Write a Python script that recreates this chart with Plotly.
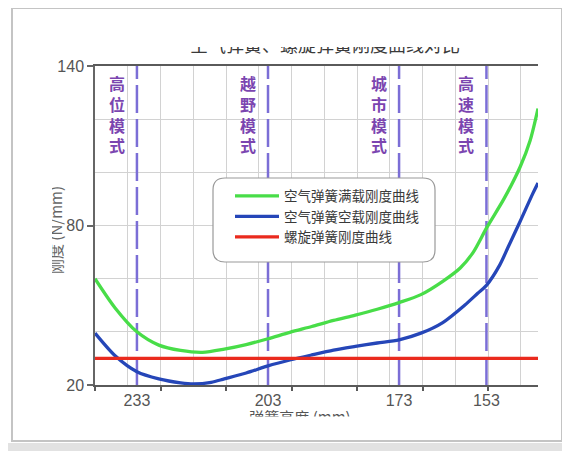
import plotly.graph_objects as go

# ---------------- data ----------------
title_text = "空气弹簧、螺旋弹簧刚度曲线对比"
x_title = "弹簧高度 (mm)"
y_title = "刚度 (N/mm)"

series_names = ["空气弹簧满载刚度曲线", "空气弹簧空载刚度曲线", "螺旋弹簧刚度曲线"]

height_loaded = [242.6, 238, 233, 228, 223, 218, 213, 208, 203, 198, 193, 188, 183, 178,
                 173, 168, 163, 159, 156, 153, 149, 145.3, 143, 141.2]
stiff_loaded = [60, 49, 40, 35, 33, 32.3, 33.5, 35.2, 37.4, 39.8, 42, 44.3, 46.3, 48.5,
                51, 54, 59, 64, 70, 79, 90, 102, 112, 124]

height_empty = [242.6, 238, 233, 228, 223, 220, 216, 213, 208, 203, 198, 193, 188, 183,
                178, 173, 168, 163, 158, 155, 153, 150, 148, 145.3, 142.4, 141.2]
stiff_empty = [39.5, 31, 25, 22.3, 20.8, 20.4, 21, 22.3, 24.5, 27.2, 29.4, 31.3, 33.1, 34.5,
               35.8, 37, 39.5, 43.5, 50, 54.5, 57.5, 65, 72, 81.5, 92, 96]

height_coil = [242.6, 141.2]
stiff_coil = [30, 30]

mode_positions = [233, 203, 173, 153]
mode_tick_labels = ["233", "203", "173", "153"]
mode_names = ["高位模式", "越野模式", "城市模式", "高速模式"]

y_ticks = [20, 80, 140]

# ---------------- layout helpers (target pixel -> paper) ----------------
OFF = 8                    # page body margin
FW, FH = 570 - OFF, 451 - OFF
L, R, T, B = 95, 538, 66, 385


def px(t):
    return (t - OFF) / FW


def py(t):
    return 1 - (t - OFF) / FH


X_RANGE = [242.6, 141.2]

fig = go.Figure()

# mode boundary dashed lines
for xv in mode_positions:
    fig.add_trace(go.Scatter(x=[xv, xv], y=[20, 140], mode="lines",
                             line=dict(color="#7b6ed6", width=2.5, dash="28px,6px"),
                             showlegend=False, hoverinfo="skip"))

colors = ["#48dd48", "#2546b8", "#ea2a1e"]
for name, xs, ys, c in zip(series_names,
                           [height_loaded, height_empty, height_coil],
                           [stiff_loaded, stiff_empty, stiff_coil], colors):
    fig.add_trace(go.Scatter(x=xs, y=ys, mode="lines", name=name,
                             line=dict(color=c, width=3.3, shape="spline", smoothing=0.8),
                             hoverinfo="skip"))

# dummy trace for the tick-mark axis
fig.add_trace(go.Scatter(x=[None], y=[None], xaxis="x2", showlegend=False, hoverinfo="skip"))

# partially hidden titles (clipped by their own small subplots)
fig.add_trace(go.Scatter(x=[px(325)], y=[0.9], mode="text", text=[title_text],
                         textposition="middle center", cliponaxis=True,
                         textfont=dict(size=18, color="#3a3a3a", family="Noto Sans CJK SC"),
                         xaxis="x3", yaxis="y3", showlegend=False, hoverinfo="skip"))
fig.add_trace(go.Scatter(x=[px(300)], y=[-0.2], mode="text", text=[x_title],
                         textposition="middle center", cliponaxis=True,
                         textfont=dict(size=15, color="#555", family="Noto Sans CJK SC"),
                         xaxis="x4", yaxis="y4", showlegend=False, hoverinfo="skip"))

grid_c = "#d2d2d2"
hidden = dict(visible=False, range=[0, 1], fixedrange=True, automargin=False)
fig.update_layout(
    width=FW, height=FH, autosize=False,
    margin=dict(l=0, r=0, t=0, b=0, pad=0, autoexpand=False),
    paper_bgcolor="white", plot_bgcolor="white",
    font=dict(family="Liberation Sans, Noto Sans CJK SC", color="#555"),
    xaxis=dict(domain=[px(L), px(R)], range=X_RANGE, tickmode="array", tickvals=mode_positions,
               ticktext=mode_tick_labels, ticks="", showgrid=False, zeroline=False,
               showline=True, linecolor="#5a5a5a", linewidth=2, mirror=True, automargin=False,
               tickfont=dict(size=16, color="#555"),
               minor=dict(tickmode="linear", tick0=242.6, dtick=7.5, showgrid=True,
                          gridcolor=grid_c, gridwidth=1, ticks="")),
    xaxis2=dict(range=X_RANGE, overlaying="x", anchor="y", side="bottom", automargin=False,
                tickmode="linear", tick0=242.6, dtick=15, ticks="outside", ticklen=5,
                tickcolor="#5a5a5a", tickwidth=1.5, showticklabels=False,
                showgrid=False, zeroline=False, showline=False),
    yaxis=dict(domain=[py(B), py(T)], range=[20, 140], tickmode="array", tickvals=y_ticks,
               ticks="outside", ticklen=6, tickcolor="#666", tickwidth=1.5, automargin=False,
               showgrid=True, gridcolor=grid_c, gridwidth=1, zeroline=False,
               showline=True, linecolor="#666", linewidth=1.5,
               tickfont=dict(size=16, color="#555"),
               minor=dict(tickmode="linear", tick0=20, dtick=20, showgrid=True,
                          gridcolor=grid_c, gridwidth=1, ticks="")),
    xaxis3=dict(domain=[0, 1], anchor="y3", **hidden),
    yaxis3=dict(domain=[py(56), py(47)], anchor="x3", **hidden),
    xaxis4=dict(domain=[0, 1], anchor="y4", **hidden),
    yaxis4=dict(domain=[py(416.5), py(405)], anchor="x4", **hidden),
    legend=dict(x=px(230), y=py(180.5), xanchor="left", yanchor="top",
                bgcolor="rgba(0,0,0,0)", borderwidth=0, itemwidth=44,
                font=dict(size=13.5, color="#3a3a3a", family="Noto Sans CJK SC"),
                tracegroupgap=0),
    showlegend=True,
)

# rounded legend box
bx0, bx1, by0, by1 = px(213), px(435), py(262), py(178)
rx, ry = 12 / FW, 12 / FH
path = (f"M{bx0 + rx},{by1} L{bx1 - rx},{by1} Q{bx1},{by1} {bx1},{by1 - ry} "
        f"L{bx1},{by0 + ry} Q{bx1},{by0} {bx1 - rx},{by0} L{bx0 + rx},{by0} "
        f"Q{bx0},{by0} {bx0},{by0 + ry} L{bx0},{by1 - ry} Q{bx0},{by1} {bx0 + rx},{by1} Z")
fig.add_shape(type="path", path=path, xref="paper", yref="paper",
              fillcolor="white", line=dict(color="#9a9a9a", width=1.2), layer="above")

# card border and bottom shadow
fig.add_shape(type="rect", xref="paper", yref="paper", x0=px(12), x1=px(562), y0=py(441), y1=py(8),
              line=dict(color="#c4c4c4", width=2), fillcolor="rgba(0,0,0,0)", layer="below")
fig.add_shape(type="rect", xref="paper", yref="paper", x0=0, x1=1, y0=py(451), y1=py(443),
              line=dict(width=0), fillcolor="#e2e2e2", layer="below")

# y-axis title, left half masked as in the source
fig.add_annotation(x=px(55), y=py(230), xref="paper", yref="paper", text=y_title,
                   textangle=-90, showarrow=False,
                   font=dict(size=15, color="#666", family="Noto Sans CJK SC"),
                   xanchor="center", yanchor="middle")
fig.add_annotation(x=px(40), y=py(230), xref="paper", yref="paper", text=" ",
                   width=24, height=110, bgcolor="white", borderpad=0, borderwidth=0,
                   showarrow=False, xanchor="center", yanchor="middle")

# mode labels
for xv, name in zip(mode_positions, mode_names):
    fig.add_annotation(x=xv, y=py(114), xref="x", yref="paper", xshift=-20,
                       text="<br>".join(list(name)), showarrow=False,
                       font=dict(size=16, color="#7b45b0", family="Noto Sans CJK SC", weight="bold"),
                       xanchor="center", yanchor="middle")

fig.write_html("out.html")
